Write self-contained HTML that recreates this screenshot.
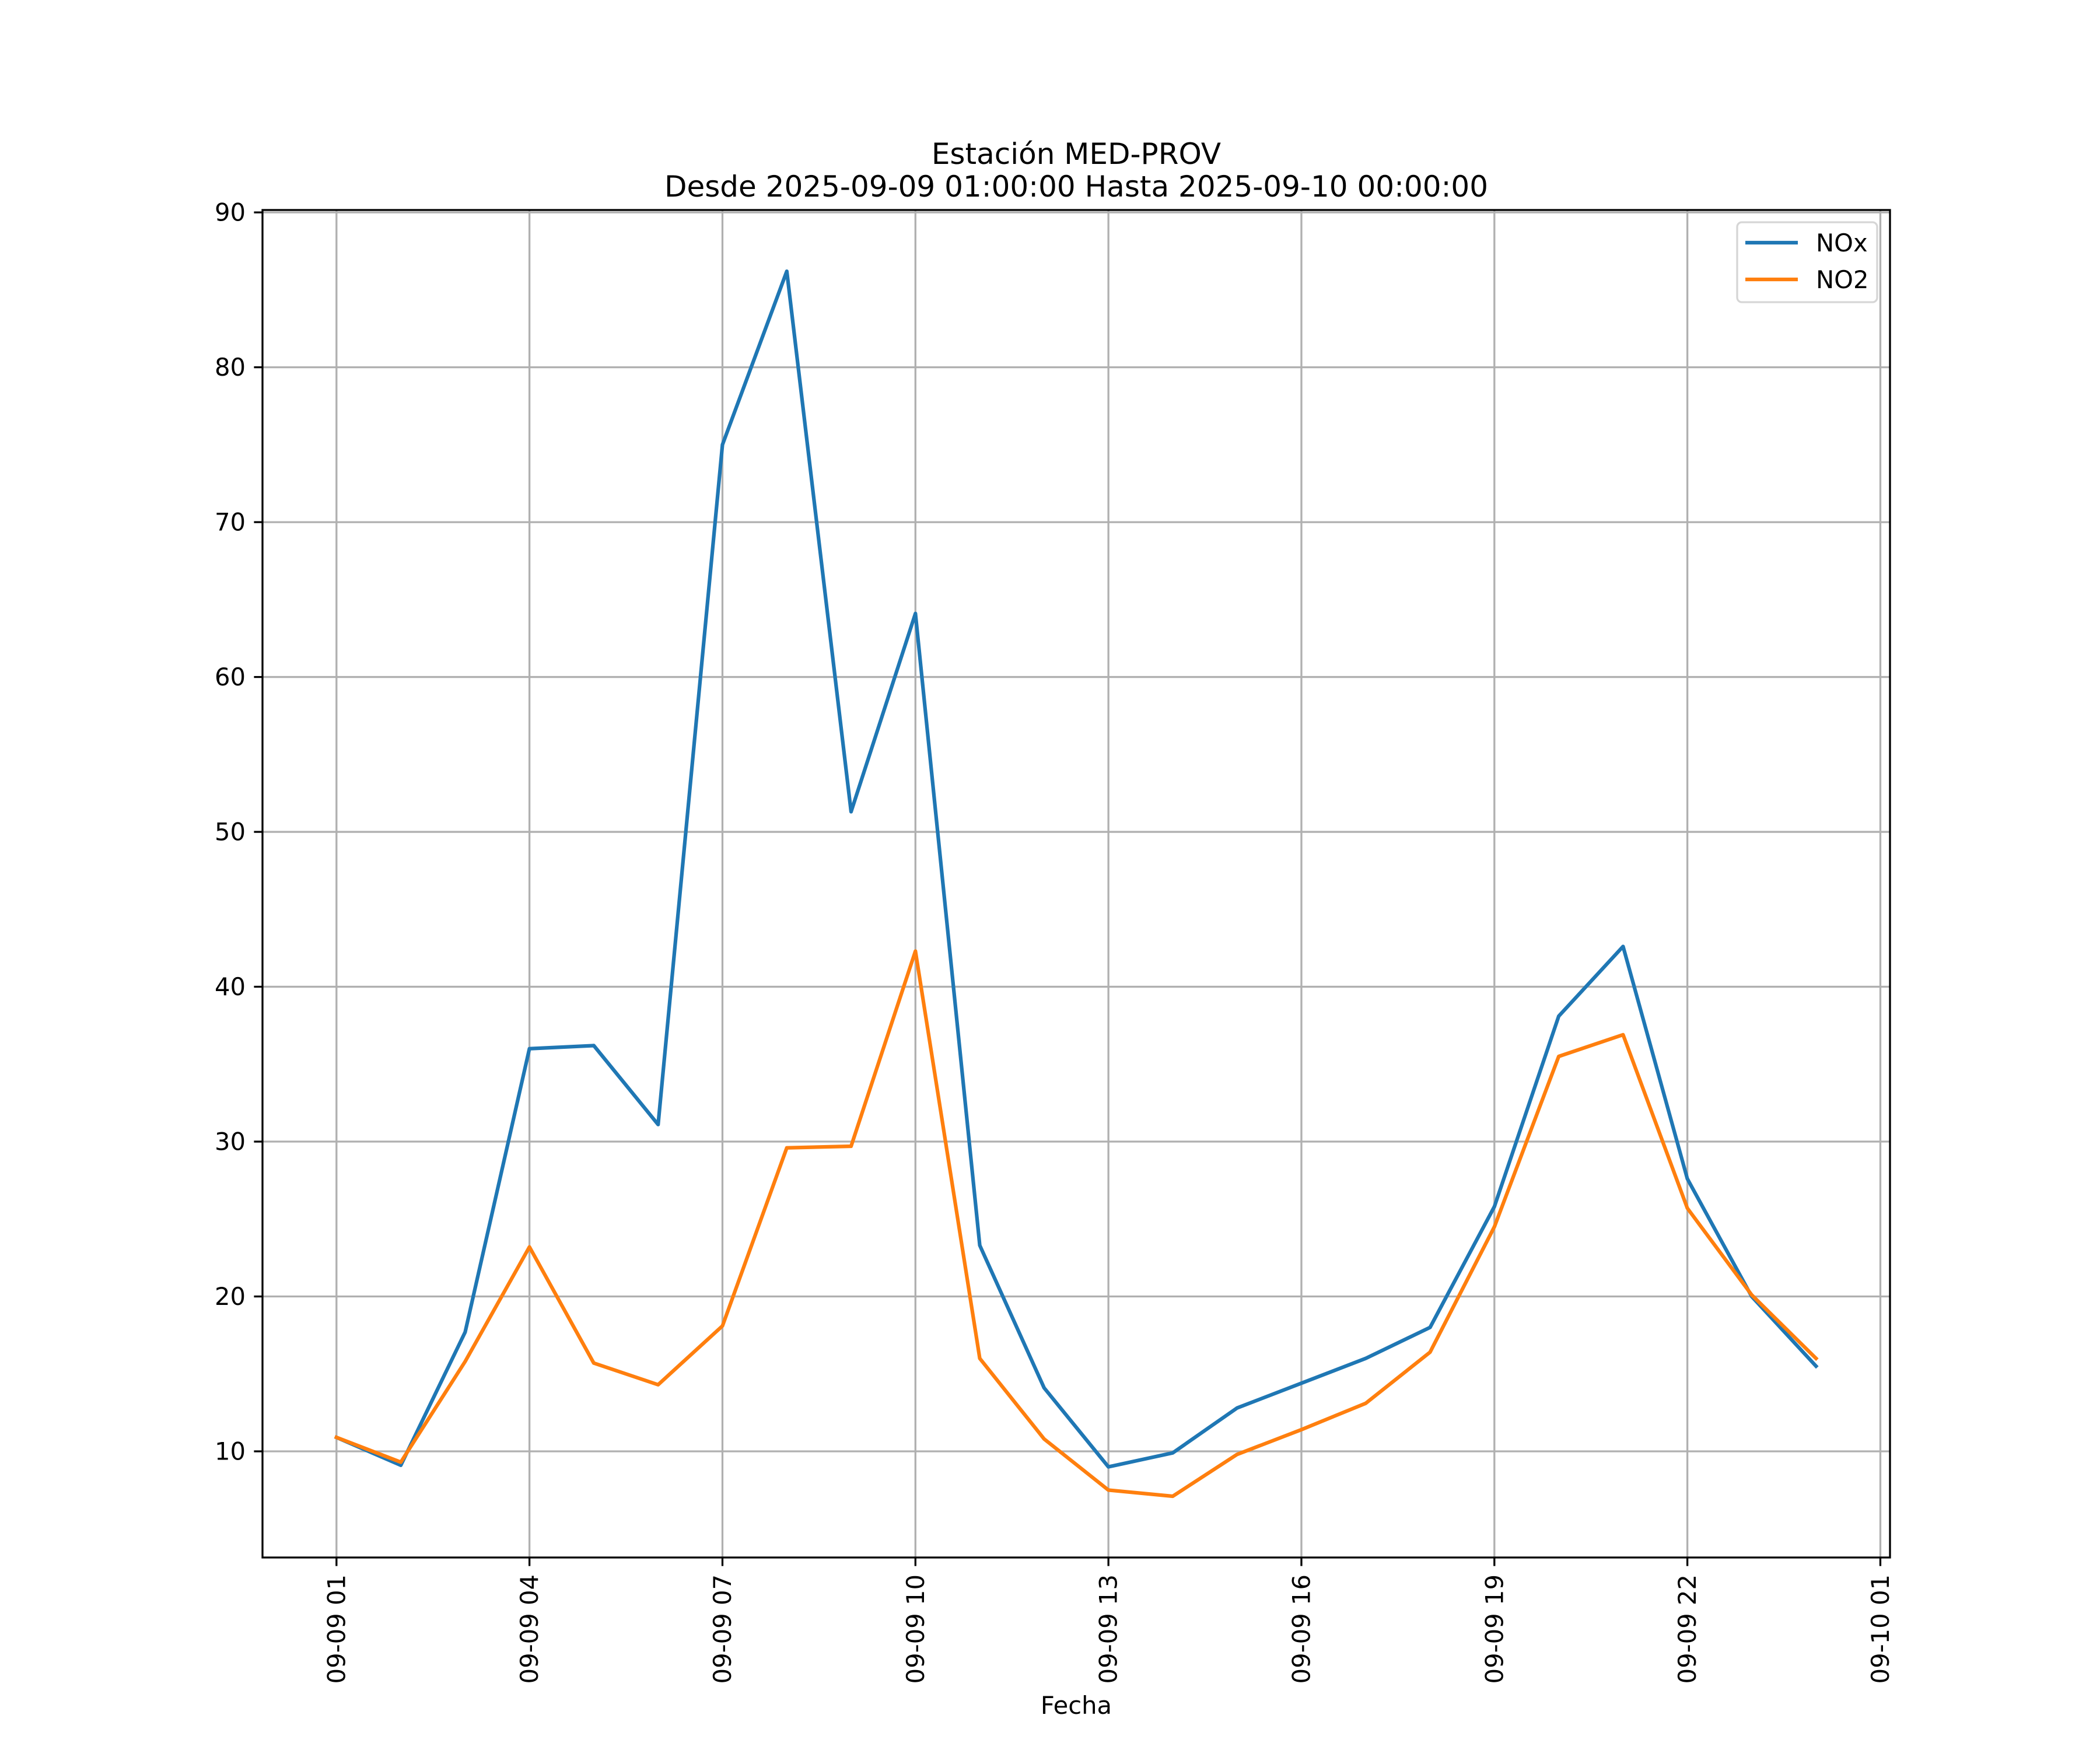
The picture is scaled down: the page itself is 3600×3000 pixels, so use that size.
<!DOCTYPE html>
<html><head><meta charset="utf-8"><style>
html,body{margin:0;padding:0;background:#fff;}
svg{display:block;font-family:"DejaVu Sans","Liberation Sans",sans-serif;}
</style></head><body>
<svg id="chart" width="3600" height="3000" viewBox="0 0 3600 3000" xmlns="http://www.w3.org/2000/svg">
<rect width="3600" height="3000" fill="#fff"/>
<text x="1845" y="281" font-size="50" text-anchor="middle">Estación MED-PROV</text>
<text x="1845" y="337" font-size="50" text-anchor="middle">Desde 2025-09-09 01:00:00 Hasta 2025-09-10 00:00:00</text>
<g id="grid"></g>
<g id="series"></g>
<rect x="450" y="360" width="2790" height="2310" fill="none" stroke="#000" stroke-width="3.3"/>
<g id="ticks"></g>
<text x="1845" y="2938" font-size="41.7" text-anchor="middle">Fecha</text>
<g>
<rect x="2978" y="381" width="240" height="137" rx="8" fill="#fff" fill-opacity="0.8" stroke="#d6d6d6" stroke-width="3.3"/>
<line x1="2992" y1="416" x2="3082" y2="416" stroke="#1f77b4" stroke-width="6.25"/>
<text x="3113" y="431" font-size="41.7">NOx</text>
<line x1="2992" y1="479" x2="3082" y2="479" stroke="#ff7f0e" stroke-width="6.25"/>
<text x="3113" y="494" font-size="41.7">NO2</text>
</g>
</svg>
<script>
const hours = [1,2,3,4,5,6,7,8,9,10,11,12,13,14,15,16,17,18,19,20,21,22,23,24];
const noxValues = [10.9,9.1,17.7,36.0,36.2,31.1,75.0,86.2,51.3,64.1,23.3,14.1,9.0,9.9,12.8,14.4,16.0,18.0,25.8,38.1,42.6,27.6,20.0,15.5];
const no2Values = [10.9,9.3,15.8,23.2,15.7,14.3,18.1,29.6,29.7,42.3,16.0,10.8,7.5,7.1,9.8,11.4,13.1,16.4,24.5,35.5,36.9,25.7,20.1,16.0];
const yTicks = [10,20,30,40,50,60,70,80,90];
const xTickHours = [1,4,7,10,13,16,19,22,25];
const xTickLabels = ["09-09 01","09-09 04","09-09 07","09-09 10","09-09 13","09-09 16","09-09 19","09-09 22","09-10 01"];

const NS = "http://www.w3.org/2000/svg";
const L = 450, R = 3240, T = 360, B = 2670;
const hMin = Math.min(...hours), hMax = Math.max(...hours), hPad = (hMax - hMin) * 0.05;
const x0 = hMin - hPad, x1 = hMax + hPad;
const all = noxValues.concat(no2Values);
const vMin = Math.min(...all), vMax = Math.max(...all), vPad = (vMax - vMin) * 0.05;
const y0 = vMin - vPad, y1 = vMax + vPad;
const xs = h => L + (h - x0) / (x1 - x0) * (R - L);
const ys = v => B - (v - y0) / (y1 - y0) * (B - T);

function mk(tag, attrs, parent) {
  const e = document.createElementNS(NS, tag);
  for (const k in attrs) e.setAttribute(k, attrs[k]);
  parent.appendChild(e);
  return e;
}
const grid = document.getElementById('grid');
const ticks = document.getElementById('ticks');
const series = document.getElementById('series');

xTickHours.forEach((h, i) => {
  const x = xs(h);
  if (x < L - 1 || x > R + 1) return;
  const g = mk('line', {x1: x, y1: T, x2: x, y2: B, stroke: '#b0b0b0', 'stroke-width': 3.3}, grid);
  
  
  const t = mk('line', {x1: x, y1: B, x2: x, y2: B + 14.6, stroke: '#000', 'stroke-width': 3.3}, ticks);
  
  
  const tx = mk('text', {x: 0, y: 0, 'font-size': 41.7, 'text-anchor': 'end', 'dominant-baseline': 'central', transform: `translate(${x},${B + 29}) rotate(-90)`}, ticks);
  tx.textContent = xTickLabels[i];
  
  
});
yTicks.forEach(v => {
  const y = ys(v);
  if (y < T - 1 || y > B + 1) return;
  const g = mk('line', {x1: L, y1: y, x2: R, y2: y, stroke: '#b0b0b0', 'stroke-width': 3.3}, grid);
  
  
  const t = mk('line', {x1: L - 14.6, y1: y, x2: L, y2: y, stroke: '#000', 'stroke-width': 3.3}, ticks);
  
  
  const tx = mk('text', {x: L - 29, y: y, 'font-size': 41.7, 'text-anchor': 'end', 'dominant-baseline': 'central'}, ticks);
  tx.textContent = String(v);
  
  
});
function drawLine(vals, color, name) {
  const pts = vals.map((v, i) => xs(hours[i]).toFixed(1) + ',' + ys(v).toFixed(1)).join(' ');
  const p = mk('polyline', {points: pts, fill: 'none', stroke: color, 'stroke-width': 6.25, 'stroke-linejoin': 'round', 'stroke-linecap': 'square'}, series);
  
  
}
drawLine(noxValues, '#1f77b4', 'nox-line');
drawLine(no2Values, '#ff7f0e', 'no2-line');
</script>
</body></html>
